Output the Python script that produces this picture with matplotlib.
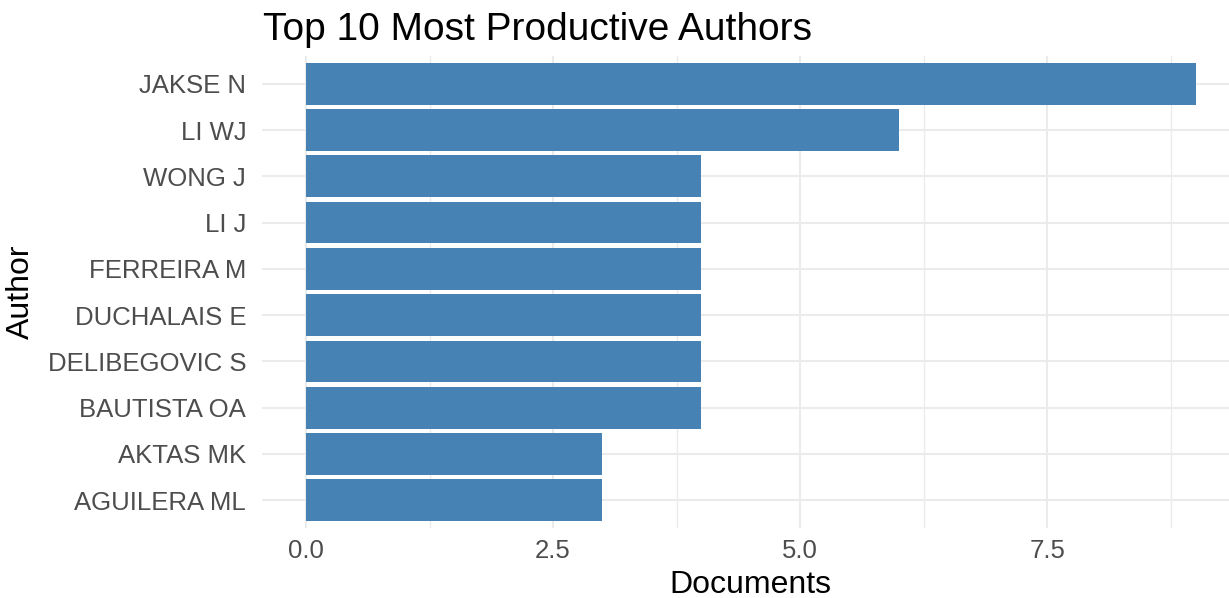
import matplotlib
matplotlib.use("Agg")
import matplotlib.pyplot as plt
from matplotlib.ticker import FixedLocator

authors = ["AGUILERA ML", "AKTAS MK", "BAUTISTA OA", "DELIBEGOVIC S", "DUCHALAIS E",
           "FERREIRA M", "LI J", "WONG J", "LI WJ", "JAKSE N"]
documents = [3, 3, 4, 4, 4, 4, 4, 4, 6, 9]
x_ticks = [0.0, 2.5, 5.0, 7.5]
x_tick_labels = ["0.0", "2.5", "5.0", "7.5"]
x_minor = [1.25, 3.75, 6.25, 8.75]

plt.rcParams['font.family'] = ['Liberation Sans', 'DejaVu Sans']

W, H = 1229, 598
fig = plt.figure(figsize=(W / 100, H / 100), dpi=100)
left, right, top, bottom = 261.5, 1240, 56, 528
ax = fig.add_axes([left / W, 1 - bottom / H, (right - left) / W, (bottom - top) / H])

pos = list(range(len(authors)))
ax.barh(pos, documents, height=0.9, color="#4682B4", zorder=3)

ax.set_xlim(-0.45, 9.45)
ax.set_ylim(-0.6, len(authors) - 0.4)
ax.set_xticks(x_ticks)
ax.set_xticklabels(x_tick_labels)
ax.xaxis.set_minor_locator(FixedLocator(x_minor))
ax.set_yticks(pos)
ax.set_yticklabels(authors)

ax.grid(which="major", color="#EBEBEB", linewidth=1.5, zorder=0)
ax.grid(which="minor", axis="x", color="#EBEBEB", linewidth=1.0, zorder=0)
for s in ax.spines.values():
    s.set_visible(False)
ax.tick_params(axis="both", which="both", length=0)
ax.tick_params(axis="y", pad=11, labelsize=18.5, labelcolor="#4D4D4D")
ax.tick_params(axis="x", pad=8, labelsize=18.5, labelcolor="#4D4D4D")
ax.set_axisbelow(True)

fig.text(263 / W, 1 - 40 / H, "Top 10 Most Productive Authors", fontsize=28,
         ha="left", va="baseline", color="black")
fig.text(750 / W, 1 - 593 / H, "Documents", fontsize=23, ha="center",
         va="baseline", color="black")
fig.text(21 / W, 1 - 292 / H, "Author", fontsize=23, rotation=90, ha="center",
         va="center", color="black")

fig.savefig("out.png", dpi=100)
